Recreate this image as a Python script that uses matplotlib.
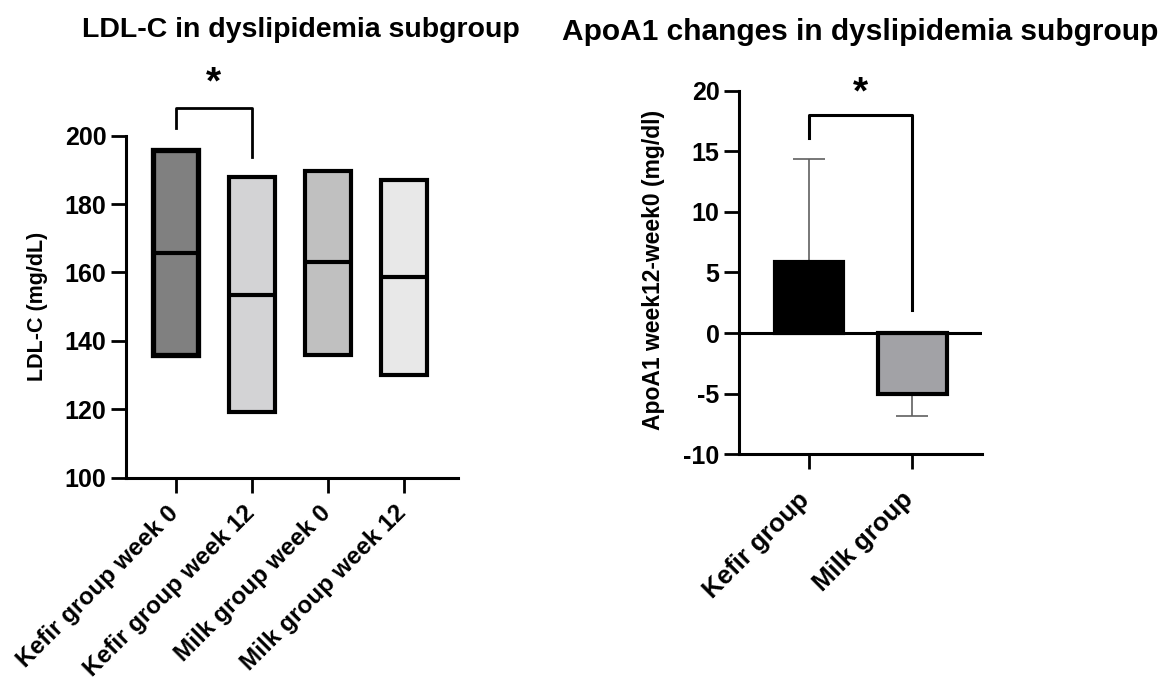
import numpy as np
import matplotlib.pyplot as plt
from matplotlib.transforms import ScaledTranslation

plt.rcParams['font.family'] = ['Liberation Sans', 'DejaVu Sans']
plt.rcParams['font.weight'] = 'bold'
plt.rcParams['axes.unicode_minus'] = False

# left panel: floating bars (min to max, line at mean)
ldl_labels = ["Kefir group week 0", "Kefir group week 12", "Milk group week 0", "Milk group week 12"]
ldl_min = [136, 119.3, 136, 130]
ldl_max = [195.8, 187.8, 189.7, 187]
ldl_mid = [165.8, 153.4, 163.2, 158.8]
ldl_colors = ["#808080", "#d3d3d5", "#c0c0c0", "#e8e8e8"]
ldl_edge = [3.8, 3.0, 3.0, 3.0]

# right panel: mean change with one-sided error
apo_labels = ["Kefir group", "Milk group"]
apo_mean = [5.9, -5.0]
apo_err = [8.45, 1.85]
apo_colors = ["#000000", "#a2a2a6"]

fig = plt.figure(figsize=(11.7, 6.87), dpi=100)

ax1 = fig.add_axes([0.1077, 0.3047, 0.2838, 0.4978])
x1 = np.arange(len(ldl_labels))
for i in range(len(x1)):
    ax1.bar(x1[i], ldl_max[i] - ldl_min[i], bottom=ldl_min[i], width=0.6,
            color=ldl_colors[i], edgecolor='black', linewidth=ldl_edge[i], zorder=2)
    ax1.plot([x1[i] - 0.3, x1[i] + 0.3], [ldl_mid[i], ldl_mid[i]], color='black', lw=3, zorder=3,
             solid_capstyle='butt')
ax1.set_xlim(-0.65, 3.71)
ax1.set_ylim(100, 200)
ax1.set_yticks([100, 120, 140, 160, 180, 200])
ax1.set_xticks(x1)
ax1.set_xticklabels(ldl_labels, rotation=45, ha='right', rotation_mode='anchor')
ax1.set_ylabel("LDL-C (mg/dL)", fontsize=15.5, fontweight='bold')
ax1.yaxis.set_label_coords(-0.235, 0.5)
# significance bracket
ax1.plot([0, 0, 1, 1], [202.3, 208, 208, 193.9], color='black', lw=2, clip_on=False)
ax1.text(0.5, 215.2, "*", ha='center', va='center', fontsize=28, fontweight='bold')

ax2 = fig.add_axes([0.6316, 0.3387, 0.2074, 0.5293])
x2 = np.arange(len(apo_labels))
ax2.bar(x2, apo_mean, width=0.66, color=apo_colors, edgecolor='black', linewidth=3, zorder=2)
ax2.errorbar(x2, apo_mean, yerr=[[0, apo_err[1]], [apo_err[0], 0]], fmt='none',
             ecolor='#606060', elinewidth=1.2, capsize=11.5, capthick=1.2, zorder=1)
ax2.axhline(0, color='black', lw=2.2, zorder=3)
ax2.set_xlim(-0.68, 1.67)
ax2.set_ylim(-10, 20)
ax2.set_yticks([-10, -5, 0, 5, 10, 15, 20])
ax2.set_xticks(x2)
ax2.set_xticklabels(apo_labels, rotation=45, ha='right', rotation_mode='anchor')
ax2.set_ylabel("ApoA1 week12-week0 (mg/dl)", fontsize=16.5, fontweight='bold')
ax2.yaxis.set_label_coords(-0.305, 0.507)
ax2.plot([0, 0, 1, 1], [16.1, 18, 18, 1.9], color='black', lw=2.2, clip_on=False)
ax2.text(0.5, 19.8, "*", ha='center', va='center', fontsize=28, fontweight='bold')

for ax in (ax1, ax2):
    ax.spines['top'].set_visible(False)
    ax.spines['right'].set_visible(False)
    ax.spines['left'].set_linewidth(2.2)
    ax.spines['bottom'].set_linewidth(2.2)
    ax.tick_params(axis='both', width=2, length=11, pad=3)
    ax.tick_params(axis='y', labelsize=18)
    for lab in ax.get_xticklabels() + ax.get_yticklabels():
        lab.set_fontweight('bold')
ax1.tick_params(axis='x', pad=6, labelsize=17.5)
ax2.tick_params(axis='x', pad=13, labelsize=18.5)

# nudge rotated labels left so their ends sit under the ticks
for ax, dx in ((ax1, -9), (ax2, -12)):
    for lab in ax.get_xticklabels():
        lab.set_transform(lab.get_transform() + ScaledTranslation(dx / 100, 0, fig.dpi_scale_trans))

fig.text(0.257, 0.956, "LDL-C in dyslipidemia subgroup", ha='center', va='center',
         fontsize=20.5, fontweight='bold')
fig.text(0.735, 0.953, "ApoA1 changes in dyslipidemia subgroup", ha='center', va='center',
         fontsize=21.5, fontweight='bold')

fig.savefig("out.png", dpi=100)
